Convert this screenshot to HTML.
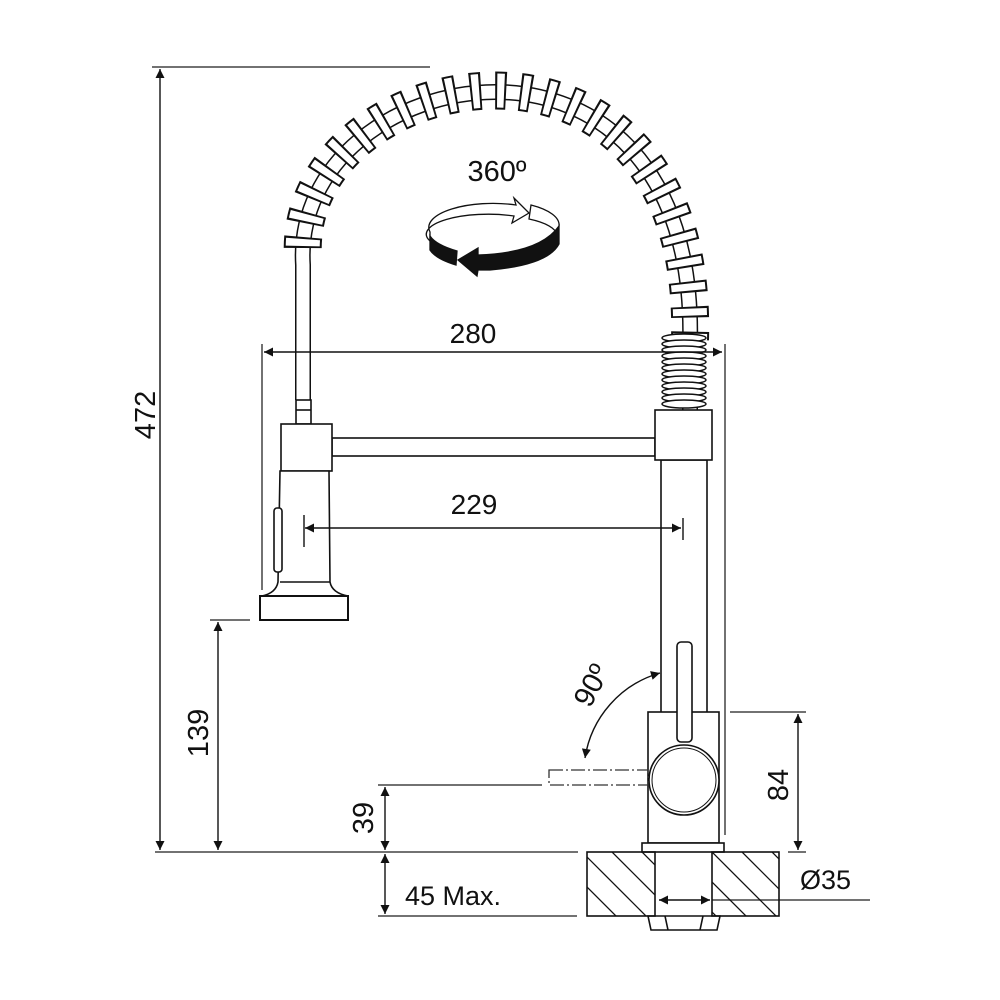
<!DOCTYPE html>
<html><head><meta charset="utf-8"><style>
html,body{margin:0;padding:0;background:#fff}
svg{display:block}
text{font-family:"Liberation Sans",Arial,sans-serif;fill:#111}
</style></head><body>
<svg width="1000" height="1000" viewBox="0 0 1000 1000" xmlns="http://www.w3.org/2000/svg">
<defs>
<marker id="a" viewBox="0 0 10 10" refX="10" refY="5" markerWidth="20" markerHeight="9" markerUnits="userSpaceOnUse" orient="auto-start-reverse"><path d="M0,0 L10,5 L0,10 z" fill="#111"/></marker>
<clipPath id="c1"><rect x="587" y="852" width="68" height="64"/></clipPath>
<clipPath id="c2"><rect x="712" y="852" width="67" height="64"/></clipPath>
</defs>
<g stroke="#444" stroke-width="1.5" fill="none">
<line x1="152" y1="67" x2="430" y2="67"/>
<line x1="155" y1="852" x2="578" y2="852"/>
<line x1="210" y1="620" x2="250" y2="620"/>
<line x1="378" y1="785" x2="542" y2="785"/>
<line x1="378" y1="916" x2="577" y2="916"/>
<line x1="262" y1="344" x2="262" y2="590"/>
<line x1="725" y1="344" x2="725" y2="835"/>
<line x1="730" y1="712" x2="806" y2="712"/>
<line x1="788" y1="852" x2="806" y2="852"/>
<line x1="712" y1="900" x2="870" y2="900"/>
</g>

<path d="M 303 400 L 303 265 C 290 61 700 -19 690 345 L 690 410" fill="none" stroke="#111" stroke-width="16"/>
<path d="M 303 400 L 303 265 C 290 61 700 -19 690 345 L 690 410" fill="none" stroke="#fff" stroke-width="13"/>
<path d="M 303 258 C 290 61 700 -19 690 340" fill="none" stroke="#111" stroke-width="38" stroke-dasharray="11 14" stroke-dashoffset="-10"/>
<path d="M 303 258 C 290 61 700 -19 690 340" fill="none" stroke="#fff" stroke-width="34" stroke-dasharray="7 18" stroke-dashoffset="-12"/>
<g stroke="#111" stroke-width="1.5" fill="#fff">
<ellipse cx="684" cy="338" rx="22" ry="4"/><ellipse cx="684" cy="344" rx="22" ry="4"/><ellipse cx="684" cy="350" rx="22" ry="4"/><ellipse cx="684" cy="356" rx="22" ry="4"/><ellipse cx="684" cy="362" rx="22" ry="4"/><ellipse cx="684" cy="368" rx="22" ry="4"/><ellipse cx="684" cy="374" rx="22" ry="4"/><ellipse cx="684" cy="380" rx="22" ry="4"/><ellipse cx="684" cy="386" rx="22" ry="4"/><ellipse cx="684" cy="392" rx="22" ry="4"/><ellipse cx="684" cy="398" rx="22" ry="4"/><ellipse cx="684" cy="404" rx="22" ry="4"/>
</g>

<g stroke="#111" stroke-width="1.6" fill="#fff">
<rect x="296" y="400" width="15" height="24"/>
<line x1="296" y1="410" x2="311" y2="410"/>
<rect x="332" y="438" width="323" height="18"/>
<rect x="281" y="424" width="51" height="47"/>
<path d="M 280 471 L 278 582 Q 276 593 262 596 L 348 596 Q 332 593 330 582 L 329 471 Z"/>
<rect x="260" y="596" width="88" height="24" stroke-width="2"/>
<line x1="280" y1="582" x2="330" y2="582"/>
<rect x="274" y="508" width="8" height="64" rx="3"/>
<rect x="661" y="460" width="46" height="253"/>
<rect x="655" y="410" width="57" height="50"/>
<rect x="648" y="712" width="71" height="131"/>
<rect x="677" y="642" width="15" height="100" rx="4"/>
<circle cx="684" cy="780" r="35"/>
<circle cx="684" cy="780" r="32" fill="none" stroke-width="1"/>
<rect x="642" y="843" width="82" height="9"/>
<path d="M 648 916 L 720 916 L 717 930 L 651 930 Z"/>
<line x1="665" y1="916" x2="668" y2="930"/><line x1="703" y1="916" x2="700" y2="930"/>
</g>
<rect x="549" y="770" width="99" height="15" fill="none" stroke="#333" stroke-width="1.3" stroke-dasharray="14,3,2,3"/>
<g stroke="#111" stroke-width="1.6" fill="none">
<rect x="587" y="852" width="68" height="64"/>
<rect x="712" y="852" width="67" height="64"/>
<g clip-path="url(#c1)" stroke-width="1.3">
<line x1="560" y1="830" x2="660" y2="930"/><line x1="590" y1="830" x2="690" y2="930"/><line x1="620" y1="830" x2="720" y2="930"/><line x1="530" y1="830" x2="630" y2="930"/><line x1="500" y1="830" x2="600" y2="930"/>
</g>
<g clip-path="url(#c2)" stroke-width="1.3">
<line x1="690" y1="830" x2="790" y2="930"/><line x1="720" y1="830" x2="820" y2="930"/><line x1="750" y1="830" x2="850" y2="930"/><line x1="660" y1="830" x2="760" y2="930"/><line x1="630" y1="830" x2="730" y2="930"/>
</g>
</g>

<g stroke="#111" stroke-width="1.4" fill="none">
<line x1="160" y1="69" x2="160" y2="850" marker-start="url(#a)" marker-end="url(#a)"/>
<line x1="218" y1="622" x2="218" y2="850" marker-start="url(#a)" marker-end="url(#a)"/>
<line x1="385" y1="787" x2="385" y2="850" marker-start="url(#a)" marker-end="url(#a)"/>
<line x1="385" y1="854" x2="385" y2="914" marker-start="url(#a)" marker-end="url(#a)"/>
<line x1="798" y1="714" x2="798" y2="850" marker-start="url(#a)" marker-end="url(#a)"/>
<line x1="264" y1="352" x2="722" y2="352" marker-start="url(#a)" marker-end="url(#a)"/>
<line x1="305" y1="528" x2="681" y2="528" marker-start="url(#a)" marker-end="url(#a)"/>
<line x1="304" y1="515" x2="304" y2="547"/>
<line x1="683" y1="518" x2="683" y2="540"/>
<line x1="659" y1="900" x2="684" y2="900" marker-start="url(#a)"/>
<line x1="684" y1="900" x2="710" y2="900" marker-end="url(#a)"/>
<path d="M 660 673 A 105 105 0 0 0 585 758" marker-start="url(#a)" marker-end="url(#a)"/>
</g>

<text x="473" y="343" font-size="28" text-anchor="middle">280</text>
<text x="474" y="514" font-size="28" text-anchor="middle">229</text>
<text x="497" y="181" font-size="29" text-anchor="middle">360º</text>
<text x="405" y="905" font-size="27">45 Max.</text>
<text x="800" y="889" font-size="27">Ø35</text>
<text transform="translate(155,415) rotate(-90)" font-size="29" text-anchor="middle">472</text>
<text transform="translate(208,733) rotate(-90)" font-size="29" text-anchor="middle">139</text>
<text transform="translate(373,818) rotate(-90)" font-size="29" text-anchor="middle">39</text>
<text transform="translate(788,785) rotate(-90)" font-size="29" text-anchor="middle">84</text>
<text transform="translate(600,690) rotate(-62)" font-size="29" text-anchor="middle">90º</text>

<g stroke="#111" stroke-width="1.3">
<path d="M 430 232 A 64 24 0 0 1 516 205 L 514 198 L 529 213 L 512 223 L 514 216 A 62 20 0 0 0 430 241 Z" fill="#fff"/>
<path d="M 531 205 A 64 24 0 0 1 559 226 L 557 235 A 62 20 0 0 0 529 219 Z" fill="#fff"/>
<path d="M 430 236 L 430 250 Q 436 259 456 265 L 457 251 Q 436 245 430 236 Z" fill="#111"/>
<path d="M 559 226 L 559 244 Q 548 265 490 270 L 478 270 L 477 276 L 458 260 L 478 248 L 478 255 Q 540 253 559 226 Z" fill="#111"/>
</g>
</svg>
</body></html>
